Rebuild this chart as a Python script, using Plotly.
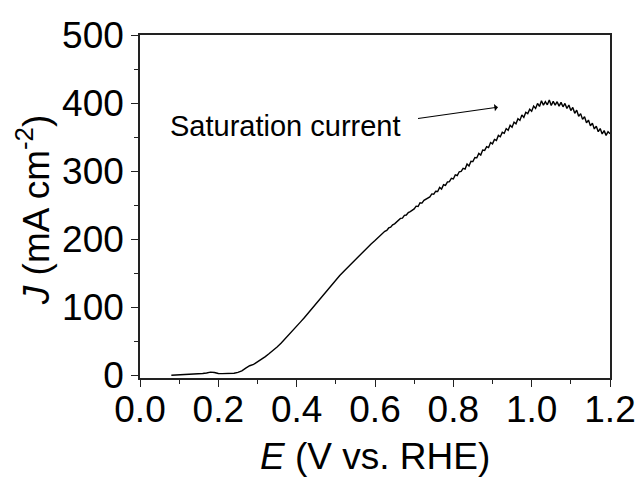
import plotly.graph_objects as go

# Potential E (V vs. RHE): low-noise part (0.01 V steps)
E_low = [0.08, 0.09, 0.10, 0.11, 0.12, 0.13, 0.14, 0.15, 0.16, 0.17,
         0.18, 0.19, 0.20, 0.21, 0.22, 0.23, 0.24, 0.25, 0.26, 0.27,
         0.28, 0.29, 0.30, 0.31, 0.32, 0.33, 0.34, 0.35, 0.36, 0.37,
         0.38, 0.39, 0.40, 0.41, 0.42, 0.43, 0.44, 0.45, 0.46, 0.47,
         0.48, 0.49, 0.50, 0.51, 0.52, 0.53, 0.54, 0.55, 0.56, 0.57,
         0.58, 0.59]
J_low = [0.0, 0.2, 0.4, 0.6, 0.9, 1.2, 1.6, 2.0, 2.6, 3.3,
         4.6, 4.0, 2.6, 2.4, 2.5, 2.6, 3.0, 4.2, 6.5, 10.5,
         14.0, 16.0, 19.5, 23.0, 27.5, 32.0, 36.5, 41.5, 47.0, 53.0,
         59.0, 65.5, 72.0, 78.5, 85.0, 92.0, 99.0, 106.0, 113.0, 119.5,
         126.5, 133.0, 140.0, 146.5, 152.5, 158.5, 164.0, 170.0, 176.0, 181.5,
         187.5, 193.0]

# Noisy part (0.005 V steps)
E_high = [0.600, 0.605, 0.610, 0.615, 0.620, 0.625, 0.630, 0.635, 0.640, 0.645,
          0.650, 0.655, 0.660, 0.665, 0.670, 0.675, 0.680, 0.685, 0.690, 0.695,
          0.700, 0.705, 0.710, 0.715, 0.720, 0.725, 0.730, 0.735, 0.740, 0.745,
          0.750, 0.755, 0.760, 0.765, 0.770, 0.775, 0.780, 0.785, 0.790, 0.795,
          0.800, 0.805, 0.810, 0.815, 0.820, 0.825, 0.830, 0.835, 0.840, 0.845,
          0.850, 0.855, 0.860, 0.865, 0.870, 0.875, 0.880, 0.885, 0.890, 0.895,
          0.900, 0.905, 0.910, 0.915, 0.920, 0.925, 0.930, 0.935, 0.940, 0.945,
          0.950, 0.955, 0.960, 0.965, 0.970, 0.975, 0.980, 0.985, 0.990, 0.995,
          1.000, 1.005, 1.010, 1.015, 1.020, 1.025, 1.030, 1.035, 1.040, 1.045,
          1.050, 1.055, 1.060, 1.065, 1.070, 1.075, 1.080, 1.085, 1.090, 1.095,
          1.100, 1.105, 1.110, 1.115, 1.120, 1.125, 1.130, 1.135, 1.140, 1.145,
          1.150, 1.155, 1.160, 1.165, 1.170, 1.175, 1.180, 1.185, 1.190, 1.195,
          1.200]
J_high = [198.0, 201.0, 203.5, 206.0, 208.5, 211.5, 213.0, 216.5, 217.5, 221.0,
          222.5, 225.0, 227.0, 230.5, 231.0, 235.0, 235.5, 239.0, 240.5, 243.0,
          244.5, 248.5, 248.0, 253.5, 253.0, 257.0, 258.5, 261.0, 262.0, 266.5,
          266.0, 270.5, 270.0, 276.0, 273.5, 280.0, 279.0, 284.0, 284.5, 289.5,
          288.5, 294.5, 293.5, 299.0, 299.5, 304.0, 303.0, 310.5, 307.5, 314.5,
          314.0, 320.0, 319.5, 326.0, 323.5, 331.0, 330.5, 336.0, 334.5, 342.0,
          340.0, 346.5, 345.0, 352.5, 350.5, 357.0, 355.5, 362.5, 360.0, 367.5,
          364.5, 372.0, 369.5, 377.0, 374.5, 382.5, 379.0, 386.5, 384.5, 391.0,
          388.0, 395.5, 392.0, 399.5, 395.0, 403.5, 397.0, 402.0, 397.5, 404.5,
          396.5, 402.5, 397.0, 402.0, 395.5, 401.0, 394.5, 399.5, 392.0, 397.0,
          389.0, 393.5, 385.0, 389.5, 380.5, 384.5, 376.0, 380.0, 371.0, 375.0,
          366.5, 370.5, 362.0, 366.0, 358.0, 362.5, 354.5, 359.5, 352.5, 358.0,
          355.0]

E = E_low + E_high
J = J_low + J_high

x_ticks = [0.0, 0.2, 0.4, 0.6, 0.8, 1.0, 1.2]
x_ticktext = ["0.0", "0.2", "0.4", "0.6", "0.8", "1.0", "1.2"]
y_ticks = [0, 100, 200, 300, 400, 500]

FONT = "Liberation Sans, Arial, sans-serif"
AX = "#222222"

fig = go.Figure()
fig.add_trace(go.Scatter(x=E, y=J, mode="lines",
                         line=dict(color="black", width=1.4),
                         showlegend=False))

axis_common = dict(
    showline=True, linecolor=AX, linewidth=1.6, mirror=True,
    ticks="outside", ticklen=7, tickwidth=1.4, tickcolor=AX,
    showgrid=False, zeroline=False, automargin=False,
    tickfont=dict(family=FONT, size=37, color="black"),
)

fig.update_xaxes(range=[0, 1.2], tickvals=x_ticks, ticktext=x_ticktext,
                 ticklabelstandoff=-9,
                 minor=dict(dtick=0.1, tick0=0, ticks="outside", ticklen=4,
                            tickwidth=1.2, tickcolor=AX),
                 **axis_common)
fig.update_yaxes(range=[-4, 500], tickvals=y_ticks,
                 minor=dict(dtick=50, tick0=0, ticks="outside", ticklen=4,
                            tickwidth=1.2, tickcolor=AX),
                 **axis_common)

fig.add_annotation(xref="paper", yref="paper", x=0.5, y=-0.23,
                   text="<i>E</i> (V vs. RHE)", showarrow=False,
                   xanchor="center", yanchor="middle",
                   font=dict(family=FONT, size=37, color="black"))
fig.add_annotation(xref="paper", yref="paper", x=-0.225, y=0.49,
                   text="<i>J</i> (mA cm<sup>-2</sup>)", showarrow=False,
                   textangle=-90, xanchor="center", yanchor="middle",
                   font=dict(family=FONT, size=37, color="black"))

fig.add_annotation(x=0.0715, y=367, xref="x", yref="y",
                   text="Saturation current", showarrow=False,
                   xanchor="left", yanchor="middle",
                   font=dict(family=FONT, size=29, color="black"))
fig.add_annotation(x=0.914, y=394, xref="x", yref="y",
                   ax=0.706, ay=377, axref="x", ayref="y",
                   text="", showarrow=True, arrowhead=1, arrowsize=1,
                   arrowwidth=1.2, arrowcolor="black", standoff=0)

fig.update_layout(
    width=642, height=480,
    margin=dict(l=140, r=32, t=35, b=102),
    paper_bgcolor="white", plot_bgcolor="white",
)

fig.write_html("out.html")
